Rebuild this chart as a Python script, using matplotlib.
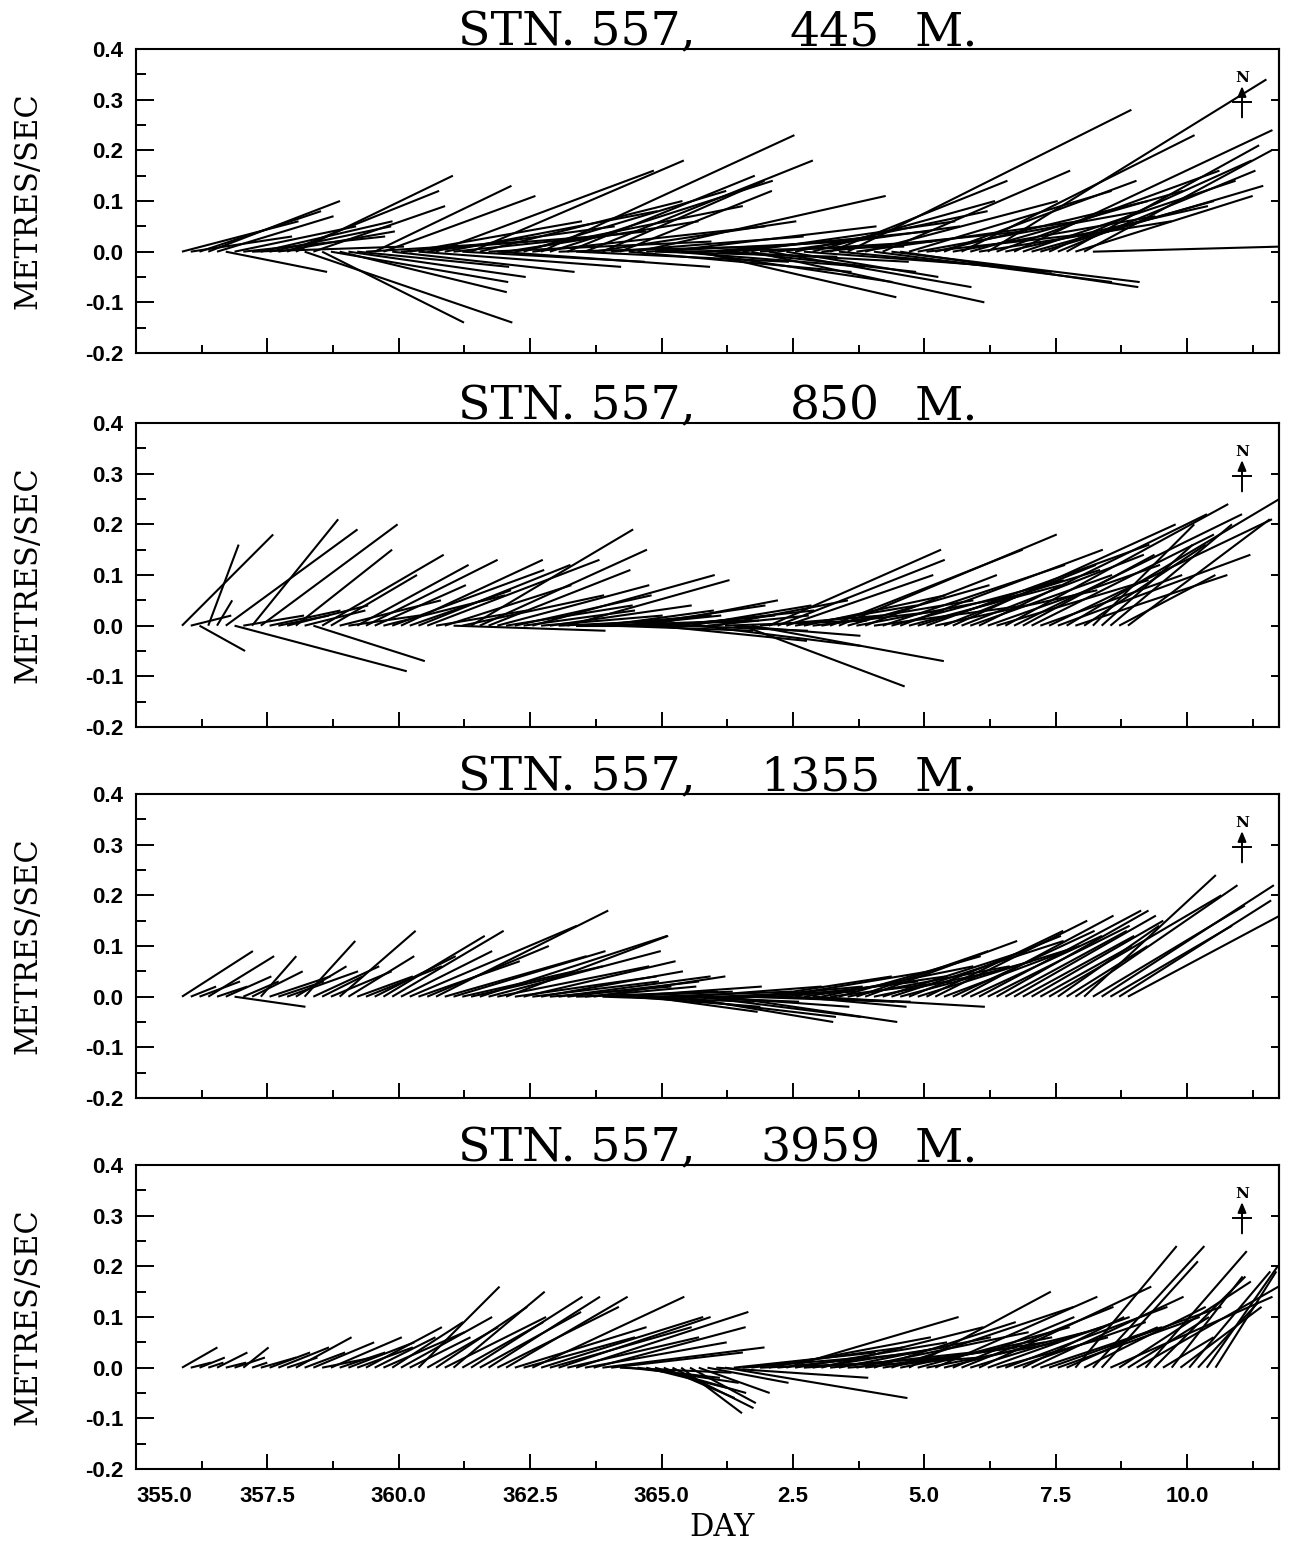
import numpy as np
import matplotlib
matplotlib.use("Agg")
import matplotlib.pyplot as plt
from matplotlib.collections import LineCollection
from matplotlib.transforms import offset_copy

plt.rcParams["axes.unicode_minus"] = False

# current-meter records, 4-hourly sticks, components in cm/s (u east, v north)
START_DAY = 355.875
STEP_DAY = 1 / 6

station = "557"
depths = ["445", "850", "1355", "3959"]

u445 = [23, 20, 24, 26, 23, 20, 24, 28, 30, 26, 24, 23, 30, 31, 41, 26, 28, 35, 33, 35,
        30, 32, 27, 30, 36, 38, 34, 40, 37, 43, 42, 38, 36, 42, 40, 44, 42, 38, 45, 40,
        46, 50, 44, 40, 37, 42, 45, 40, 32, 38, 30, 44, 49, 40, 36, 42, 38, 44, 40, 39,
        35, 38, 40, 36, 42, 46, 34, 40, 36, 30, 38, 40, 36, 40, 35, 42, 56, 44, 38, 47,
        37, 49, 47, 40, 44, 36, 42, 38, 40, 46, 42, 38, 55, 44, 40, 51, 42, 36, 44, 40,
        39, 38, 35, 37, 37]
v445 = [6, 3, 8, 10, 7, -4, 5, 3, 1, 6, 5, 4, 12, 15, -14, 9, -14, -6, -8, -5,
        -3, 2, 13, 11, -4, 3, 6, -3, 5, 16, 8, 4, -2, 18, 10, 2, -3, 6, 9, 12,
        5, 23, 14, 1, 15, -2, 18, 6, 14, 3, 12, -4, 11, 2, -1, 5, -3, 1, -6, -9,
        3, -2, 4, -4, 6, -10, 2, -7, 5, -5, 8, -3, 10, 4, 14, -4, 28, 6, 10, -6,
        16, -6, -7, 12, 8, 4, 10, 14, 7, 23, 12, 6, 34, 16, 9, 24, 14, 10, 13, 18,
        16, 21, 11, 20, 1]

u850 = [18, 8, 9, 6, 3, 26, 34, 12, 17, 27, 14, 10, 16, 19, 12, 22, 24, 17, 20, 14,
        22, 26, 18, 24, 30, 28, 20, 30, 34, 18, 25, 30, 28, 32, 33, 28, 30, 25, 27, 22,
        36, 24, 28, 22, 32, 26, 25, 30, 22, 28, 20, 27, 24, 26, 30, 22, 28, 25, 24, 32,
        20, 26, 28, 25, 32, 38, 24, 34, 33, 29, 24, 28, 26, 30, 38, 43, 28, 32, 26, 30,
        36, 34, 40, 30, 36, 44, 32, 30, 44, 36, 28, 45, 34, 30, 44, 45, 26, 36, 28, 44,
        38, 42, 30, 24, 20, 18, 24, 19, 28]
v850 = [18, 2, -5, 16, 5, 19, -9, 2, 21, 20, 3, 2, 4, 15, 3, -7, 14, 10, 5, 2,
        12, 13, 8, 6, 11, 13, 7, 12, 13, 3, 8, -1, 6, 19, 15, 11, 8, 4, 6, 3,
        10, 2, 4, 1, 9, 0, 2, 1, 3, -1, 2, 4, 1, 5, -3, 2, 3, -1, 4, -4,
        2, 5, 1, -2, -12, -7, 2, 15, 13, 10, 4, 6, 3, 5, 15, 18, 8, 6, 10, 4,
        12, 9, 15, 8, 11, 16, 7, 12, 20, 14, 10, 22, 12, 9, 24, 22, 14, 18, 10, 21,
        14, 25, 10, 16, 20, 16, 20, 10, 21]

u1355 = [14, 5, 8, 13, 6, 9, 14, 7, 10, 7, 12, 9, 14, 10, 10, 13, 8, 12, 15, 13,
         11, 15, 16, 20, 22, 18, 33, 20, 24, 34, 28, 30, 22, 26, 37, 34, 30, 32, 28, 30,
         25, 28, 24, 30, 26, 28, 22, 26, 30, 24, 28, 26, 30, 22, 27, 34, 25, 30, 26, 32,
         28, 24, 34, 24, 30, 22, 26, 28, 30, 26, 22, 28, 34, 30, 24, 28, 32, 26, 30, 24,
         28, 34, 26, 30, 32, 27, 30, 24, 28, 30, 26, 32, 28, 30, 24, 28, 22, 26, 18, 34,
         20, 16, 32, 26, 30, 34, 24, 30, 30]
v1355 = [9, 2, 3, 8, 2, 4, -2, 3, 5, 8, 4, 3, 5, 6, 11, 6, 4, 5, 13, 8,
         4, 6, 8, 12, 13, 9, 14, 7, 10, 17, 8, 9, 5, 6, 12, 9, 6, 12, 4, 7,
         3, 5, 2, 4, 3, 1, 2, 4, -1, 1, 2, -2, 0, -3, 1, -4, -1, -5, 2, -4,
         -2, 1, -5, 1, -1, 2, 4, -1, 5, 3, -2, 4, -2, 6, 3, 8, 6, 9, 11, 5,
         9, 11, 7, 12, 10, 13, 15, 9, 13, 16, 12, 17, 14, 17, 13, 16, 12, 15, 10, 20,
         14, 10, 22, 24, 18, 22, 14, 19, 16]

u3959 = [7, 4, 5, 3, 6, 4, 6, 5, 3, 7, 8, 10, 6, 11, 8, 12, 10, 14, 9, 13,
         11, 15, 12, 16, 14, 18, 12, 16, 14, 18, 20, 18, 16, 22, 20, 22, 24, 24, 26, 22,
         30, 32, 28, 30, 26, 34, 28, 30, 32, 26, 22, 18, 20, 16, 18, 14, 16, 12, 13, 14,
         16, 30, 36, 28, 24, 30, 26, 32, 28, 34, 30, 28, 26, 32, 28, 30, 26, 34, 30, 28,
         32, 36, 30, 28, 30, 26, 32, 28, 24, 30, 26, 34, 28, 22, 32, 26, 20, 30, 24, 34,
         28, 18, 20, 24, 22, 19, 32, 26, 16, 28, 20, 18, 10, 14, 16, 16, 12, 14, 12]
v3959 = [4, 1, 2, 1, 3, 1, 2, 4, 1, 2, 3, 4, 2, 6, 3, 5, 2, 6, 3, 5,
         4, 8, 6, 7, 9, 10, 6, 16, 8, 12, 10, 15, 9, 14, 11, 14, 12, 14, 8, 6,
         14, 10, 8, 10, 6, 11, 5, 8, 4, 3, -1, -2, -3, -4, -5, -6, -8, -9, -7, -5,
         -3, -2, -6, 3, 2, 4, 1, 6, 3, 10, 5, 2, 4, 8, 3, 6, 2, 7, 4, 9,
         5, 12, 6, 15, 8, 5, 14, 7, 10, 12, 8, 16, 10, 6, 12, 9, 10, 14, 8, 12,
         10, 8, 24, 12, 24, 21, 14, 17, 10, 16, 23, 18, 6, 18, 12, 19, 13, 20, 19]

records = [(u445, v445), (u850, v850), (u1355, v1355), (u3959, v3959)]

day_ticks = [355.0, 357.5, 360.0, 362.5, 365.0, 367.5, 370.0, 372.5, 375.0]
day_labels = ["355.0", "357.5", "360.0", "362.5", "365.0", "2.5", "5.0", "7.5", "10.0"]
day_minor = [356.25, 358.75, 361.25, 363.75, 366.25, 368.75, 371.25, 373.75, 376.25]
speed_ticks = [-0.2, -0.1, 0.0, 0.1, 0.2, 0.3, 0.4]
speed_minor = [-0.15, -0.05, 0.05, 0.15, 0.25, 0.35]

# layout in pixels
W, H = 1299, 1547
LEFT, RIGHT = 136, 1279
TOPS = [49, 423, 794, 1165]
PANEL_H = 304
XMIN, XMAX = 355.0, 376.75
YMIN, YMAX = -0.2, 0.4

tick_font = dict(family="Liberation Sans", weight="bold", size=16)
serif = "DejaVu Serif"

fig = plt.figure(figsize=(W / 100, H / 100), dpi=100)


def frac_x(px):
    return (px - LEFT) / (RIGHT - LEFT)


for n, ((u, v), depth, top) in enumerate(zip(records, depths, TOPS)):
    ax = fig.add_axes([LEFT / W, 1 - (top + PANEL_H) / H, (RIGHT - LEFT) / W, PANEL_H / H])
    ax.set_xlim(XMIN, XMAX)
    ax.set_ylim(YMIN, YMAX)

    # sticks keep their true direction on the page: days per m/s from the axes scale
    k = (PANEL_H / (YMAX - YMIN)) / ((RIGHT - LEFT) / (XMAX - XMIN))
    uu = np.asarray(u) / 100.0
    vv = np.asarray(v) / 100.0
    t = START_DAY + STEP_DAY * np.arange(len(uu))
    segs = np.stack([np.column_stack([t, np.zeros_like(t)]),
                     np.column_stack([t + uu * k, vv])], axis=1)
    ax.add_collection(LineCollection(segs, colors="k", linewidths=1.5))

    for sp in ax.spines.values():
        sp.set_linewidth(1.5)

    ax.set_xticks(day_ticks)
    ax.set_xticks(day_minor, minor=True)
    ax.set_yticks(speed_ticks)
    ax.set_yticks(speed_minor, minor=True)
    ax.set_yticklabels([f"{s:.1f}" for s in speed_ticks], fontdict=tick_font)
    ax.tick_params(axis="x", which="major", direction="in", length=11, width=1.4,
                   top=False, pad=12)
    ax.tick_params(axis="x", which="minor", direction="in", length=6, width=1.4, top=False)
    ax.tick_params(axis="y", which="major", direction="in", length=13, width=1.4,
                   right=False, pad=9)
    ax.tick_params(axis="y", which="minor", direction="in", length=7, width=1.4, right=False)

    if n == len(records) - 1:
        ax.set_xticklabels(day_labels, fontdict=tick_font)
        ax.get_xticklabels()[0].set_horizontalalignment("left")
    else:
        ax.set_xticklabels([])

    sec = ax.secondary_yaxis("right")
    sec.set_yticks(speed_ticks)
    sec.tick_params(direction="in", length=6, width=1.4, labelright=False)
    sec.spines["right"].set_linewidth(1.5)

    # title pieces
    trans = offset_copy(ax.transAxes, fig=fig, x=0, y=4, units="dots")
    ax.text(frac_x(458), 1, f"STN. {station},", transform=trans, ha="left", va="baseline",
            fontsize=34, family=serif)
    ax.text(frac_x(880), 1, depth, transform=trans, ha="right", va="baseline",
            fontsize=34, family=serif)
    ax.text(frac_x(915), 1, "M.", transform=trans, ha="left", va="baseline",
            fontsize=34, family=serif)

    # north arrow
    xn = frac_x(1242)
    ax.annotate("", xy=(xn, 0.878), xytext=(xn, 0.775), xycoords="axes fraction",
                arrowprops=dict(arrowstyle="-|>,head_length=0.6,head_width=0.25",
                                color="k", lw=1.4, shrinkA=0, shrinkB=0))
    ax.plot([xn - 0.0083, xn + 0.0083], [0.826, 0.826], transform=ax.transAxes,
            color="k", lw=1.4, clip_on=False)
    ax.text(xn, 0.905, "N", transform=ax.transAxes, ha="center", va="center",
            fontsize=11, fontweight="bold", family=serif)

    fig.text(28 / W, 1 - (top + PANEL_H / 2) / H, "METRES/SEC", rotation=90,
             ha="center", va="center", fontsize=22, family=serif)

fig.text(722 / W, 1 - 1528 / H, "DAY", ha="center", va="center", fontsize=22, family=serif)

fig.savefig("out.png", dpi=100)
